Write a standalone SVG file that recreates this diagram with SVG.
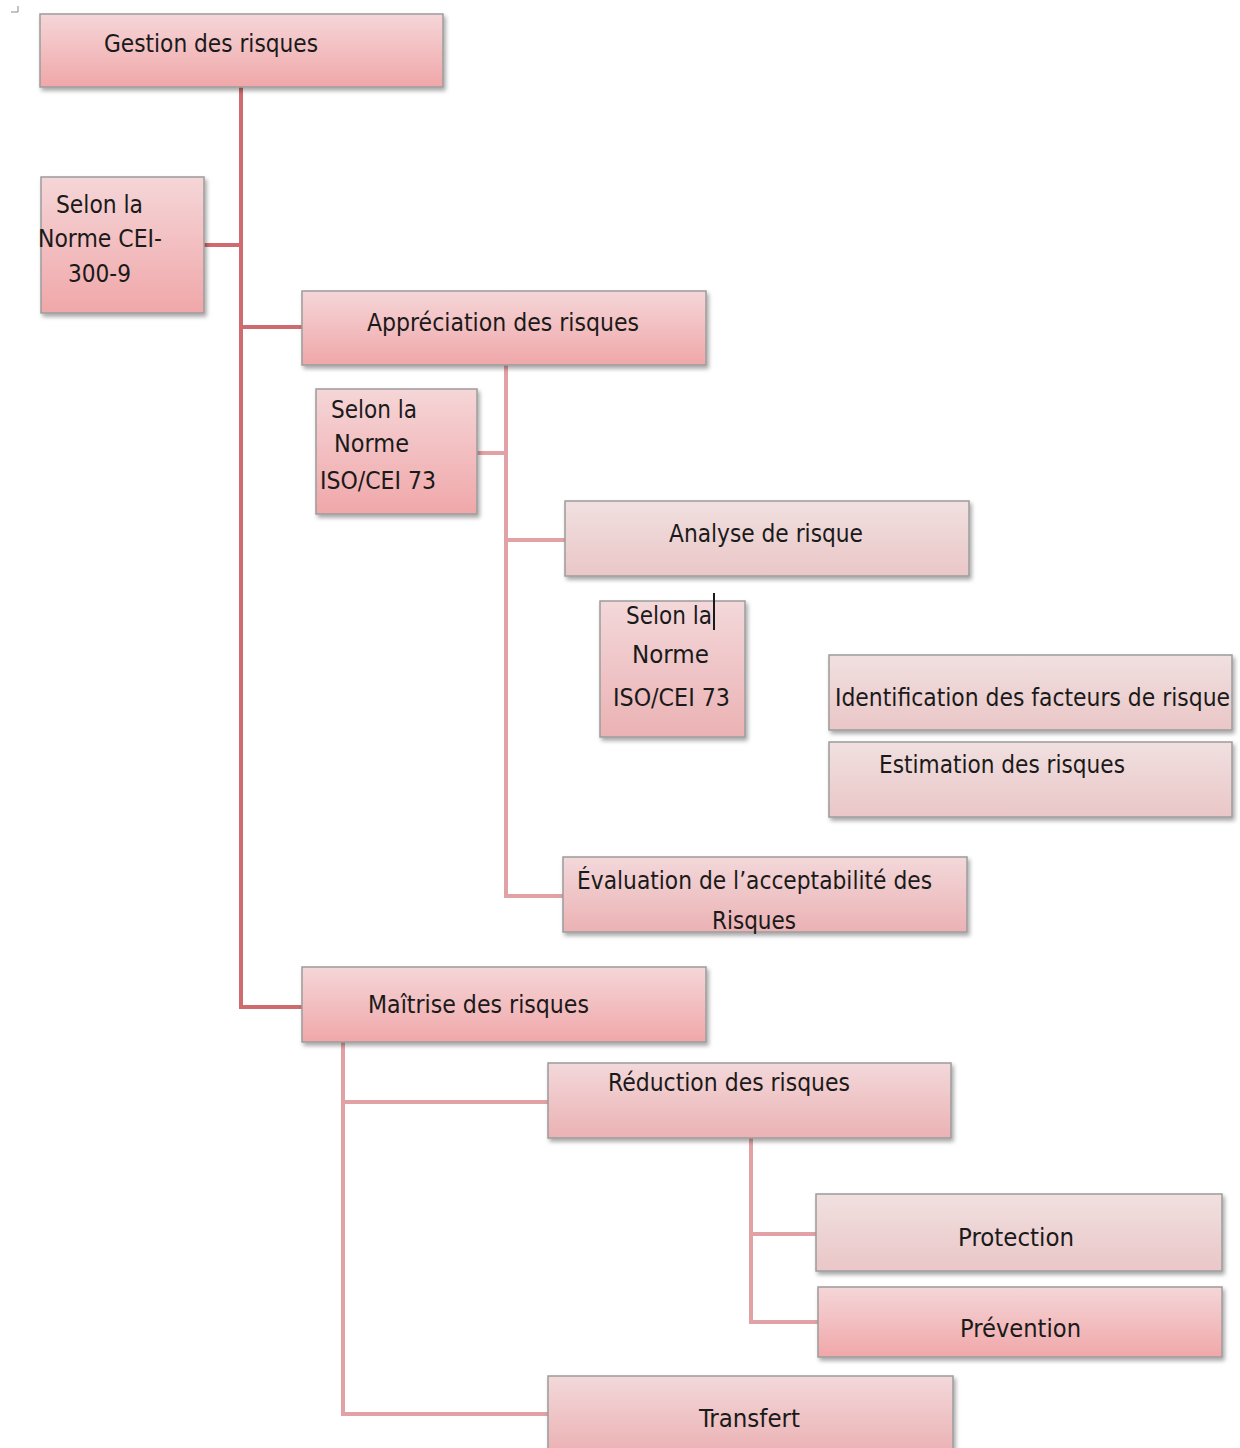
<svg xmlns="http://www.w3.org/2000/svg" width="1240" height="1448" viewBox="0 0 1240 1448">
<defs>
<style>
.box{stroke:#9c9c9c;stroke-width:1.5;filter:url(#sh)}
.t{font-family:"Liberation Sans Narrow","DejaVu Sans Condensed","Liberation Sans",sans-serif;font-size:25px;fill:#1a1a1a}
.main{stroke:#cf6a6e;stroke-width:4;fill:none}
.sub{stroke:#e2a2a5;stroke-width:4;fill:none}
</style>
<filter id="sh" x="-10%" y="-10%" width="120%" height="130%">
<feDropShadow dx="2" dy="3" stdDeviation="2" flood-color="#000" flood-opacity="0.35"/>
</filter>
<linearGradient id="gStrong" x1="0" y1="0" x2="0" y2="1">
<stop offset="0" stop-color="#f5d6d8"/><stop offset="1" stop-color="#f0a7a9"/>
</linearGradient>
<linearGradient id="gMid" x1="0" y1="0" x2="0" y2="1">
<stop offset="0" stop-color="#f3d8da"/><stop offset="1" stop-color="#ebb2b4"/>
</linearGradient>
<linearGradient id="gLight" x1="0" y1="0" x2="0" y2="1">
<stop offset="0" stop-color="#f1e0e0"/><stop offset="1" stop-color="#eac6c7"/>
</linearGradient>
</defs>
<rect width="1240" height="1448" fill="#ffffff"/>
<path d="M11 12 H18 V6" stroke="#888" stroke-width="1" fill="none"/>

<g id="connectors">
<path class="main" d="M241 87 V1007 H302"/>
<path class="main" d="M204 245 H241"/>
<path class="main" d="M241 327 H302"/>
<path class="sub" d="M506 365 V896 H563"/>
<path class="sub" d="M477 453 H506"/>
<path class="sub" d="M506 540 H565"/>
<path class="sub" d="M343 1042 V1414 H548"/>
<path class="sub" d="M343 1102 H548"/>
<path class="sub" d="M751 1138 V1322 H818"/>
<path class="sub" d="M751 1234 H816"/>
</g>

<g id="n-gestion">
<rect class="box" x="40" y="14" width="403" height="73" fill="url(#gStrong)"/>
<text class="t" x="104" y="52" textLength="214" lengthAdjust="spacingAndGlyphs">Gestion des risques</text>
</g>

<g id="n-selon-cei">
<rect class="box" x="41" y="177" width="163" height="136" fill="url(#gStrong)"/>
<text class="t" x="56" y="213" textLength="87" lengthAdjust="spacingAndGlyphs">Selon la</text>
<text class="t" x="38" y="247" textLength="124" lengthAdjust="spacingAndGlyphs">Norme CEI-</text>
<text class="t" x="68" y="282" textLength="63" lengthAdjust="spacingAndGlyphs">300-9</text>
</g>

<g id="n-appreciation">
<rect class="box" x="302" y="291" width="404" height="74" fill="url(#gStrong)"/>
<text class="t" x="367" y="331" textLength="272" lengthAdjust="spacingAndGlyphs">Appréciation des risques</text>
</g>

<g id="n-selon-iso1">
<rect class="box" x="316" y="389" width="161" height="125" fill="url(#gStrong)"/>
<text class="t" x="331" y="418" textLength="86" lengthAdjust="spacingAndGlyphs">Selon la</text>
<text class="t" x="334" y="452" textLength="75" lengthAdjust="spacingAndGlyphs">Norme</text>
<text class="t" x="320" y="489" textLength="116" lengthAdjust="spacingAndGlyphs">ISO/CEI 73</text>
</g>

<g id="n-analyse">
<rect class="box" x="565" y="501" width="404" height="75" fill="url(#gLight)"/>
<text class="t" x="669" y="542" textLength="194" lengthAdjust="spacingAndGlyphs">Analyse de risque</text>
</g>

<g id="n-selon-iso2">
<rect class="box" x="600" y="601" width="145" height="136" fill="url(#gMid)"/>
<text class="t" x="626" y="624" textLength="86" lengthAdjust="spacingAndGlyphs">Selon la</text>
<line x1="714" y1="593" x2="714" y2="630" stroke="#1a1a1a" stroke-width="2"/>
<text class="t" x="632" y="663" textLength="77" lengthAdjust="spacingAndGlyphs">Norme</text>
<text class="t" x="613" y="706" textLength="117" lengthAdjust="spacingAndGlyphs">ISO/CEI 73</text>
</g>

<g id="n-identification">
<rect class="box" x="829" y="655" width="403" height="75" fill="url(#gLight)"/>
<text class="t" x="835" y="706" textLength="395" lengthAdjust="spacingAndGlyphs">Identification des facteurs de risque</text>
</g>

<g id="n-estimation">
<rect class="box" x="829" y="742" width="403" height="75" fill="url(#gLight)"/>
<text class="t" x="879" y="773" textLength="246" lengthAdjust="spacingAndGlyphs">Estimation des risques</text>
</g>

<g id="n-evaluation">
<rect class="box" x="563" y="857" width="404" height="75" fill="url(#gMid)"/>
<text class="t" x="577" y="889" textLength="355" lengthAdjust="spacingAndGlyphs">Évaluation de l’acceptabilité des</text>
<text class="t" x="712" y="929" textLength="84" lengthAdjust="spacingAndGlyphs">Risques</text>
</g>

<g id="n-maitrise">
<rect class="box" x="302" y="967" width="404" height="75" fill="url(#gStrong)"/>
<text class="t" x="368" y="1013" textLength="221" lengthAdjust="spacingAndGlyphs">Maîtrise des risques</text>
</g>

<g id="n-reduction">
<rect class="box" x="548" y="1063" width="403" height="75" fill="url(#gMid)"/>
<text class="t" x="608" y="1091" textLength="242" lengthAdjust="spacingAndGlyphs">Réduction des risques</text>
</g>

<g id="n-protection">
<rect class="box" x="816" y="1194" width="406" height="77" fill="url(#gLight)"/>
<text class="t" x="958" y="1246" textLength="116" lengthAdjust="spacingAndGlyphs">Protection</text>
</g>

<g id="n-prevention">
<rect class="box" x="818" y="1287" width="404" height="70" fill="url(#gStrong)"/>
<text class="t" x="960" y="1337" textLength="121" lengthAdjust="spacingAndGlyphs">Prévention</text>
</g>

<g id="n-transfert">
<rect class="box" x="548" y="1376" width="405" height="76" fill="url(#gMid)"/>
<text class="t" x="699" y="1427" textLength="101" lengthAdjust="spacingAndGlyphs">Transfert</text>
</g>
</svg>
